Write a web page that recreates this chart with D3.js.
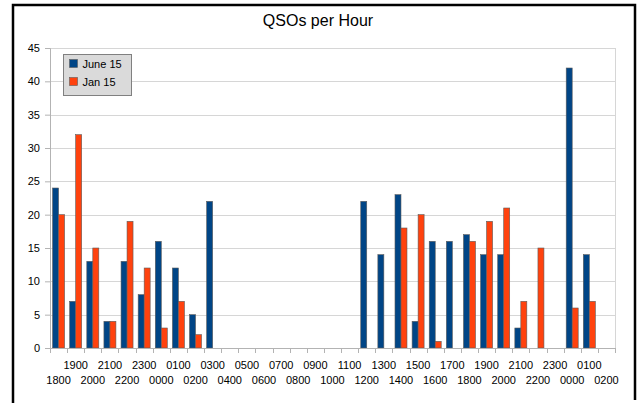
<!DOCTYPE html>
<html>
<head>
<meta charset="utf-8">
<script src="https://cdn.jsdelivr.net/npm/d3@7"></script>
<style>
  body { margin: 0; background: #fff; }
  svg text { font-family: "Liberation Sans", Arial, sans-serif; fill: #000; }
</style>
</head>
<body>
<svg id="chart" width="638" height="403"></svg>
<script>
// hours along the x axis (two days, 1800 -> 0200)
const hours = ['1800','1900','2000','2100','2200','2300','0000','0100','0200','0300','0400','0500',
  '0600','0700','0800','0900','1000','1100','1200','1300','1400','1500','1600','1700',
  '1800','1900','2000','2100','2200','2300','0000','0100','0200'];
const june15 = [24,7,13,4,13,8,16,12,5,22,0,0,0,0,0,0,0,0,22,14,23,4,16,16,17,14,14,3,0,0,42,14,0];
const jan15 = [20,32,15,4,19,12,3,7,2,0,0,0,0,0,0,0,0,0,0,0,18,20,1,0,16,19,21,7,15,0,6,7,0];
const seriesNames = ['June 15', 'Jan 15'];
const yTicks = [0,5,10,15,20,25,30,35,40,45];

const colors = { 'June 15': '#004586', 'Jan 15': '#ff420e' };
const margin = { top: 48, right: 23, bottom: 55, left: 50 };
const W = 638, H = 403;
const width = W - margin.left - margin.right;
const height = H - margin.top - margin.bottom;

const svg = d3.select('#chart');

// outer frame
svg.append('path')
  .attr('d', `M13,403 L13,5 L635,5 L635,400`)
  .attr('fill', 'none').attr('stroke', '#000').attr('stroke-width', 2.5);

svg.append('text')
  .attr('x', 318).attr('y', 26)
  .attr('text-anchor', 'middle')
  .style('font-size', '16px')
  .text('QSOs per Hour');

const g = svg.append('g').attr('transform', `translate(${margin.left},${margin.top})`);

const x = d3.scaleBand().domain(d3.range(hours.length)).range([0, width]).padding(0);
const xs = d3.scaleBand().domain(seriesNames).range([x.bandwidth() * 0.15, x.bandwidth() * 0.85]);
const y = d3.scaleLinear().domain([0, 45]).range([height, 0]);

// grid
g.selectAll('.grid').data(yTicks).enter().append('line')
  .attr('x1', 0).attr('x2', width)
  .attr('y1', d => Math.round(y(d)) + 0.5).attr('y2', d => Math.round(y(d)) + 0.5)
  .attr('stroke', '#d6d6d6');
g.append('line').attr('x1', width + 0.5).attr('x2', width + 0.5).attr('y1', 0).attr('y2', height)
  .attr('stroke', '#d6d6d6');

// y axis
const yAxis = g.append('g').call(d3.axisLeft(y).tickValues(yTicks).tickSize(5).tickPadding(5));
yAxis.select('.domain').attr('stroke', '#b3b3b3');
yAxis.selectAll('.tick line').attr('stroke', '#b3b3b3');
yAxis.selectAll('text').style('font-size', '11px');

// bars
const rows = hours.map((h, i) => ({ i, 'June 15': june15[i], 'Jan 15': jan15[i] }));
const groups = g.selectAll('.grp').data(rows).enter().append('g')
  .attr('transform', d => `translate(${x(d.i)},0)`);
groups.selectAll('rect')
  .data(d => seriesNames.map(s => ({ s, v: d[s] })).filter(e => e.v > 0))
  .enter().append('rect')
  .attr('x', d => xs(d.s))
  .attr('width', xs.bandwidth())
  .attr('y', d => y(d.v))
  .attr('height', d => height - y(d.v))
  .attr('fill', d => colors[d.s])
  .attr('stroke', '#5c5c5c')
  .attr('stroke-width', 0.6);

// x axis line + boundary ticks
const xa = g.append('g').attr('transform', `translate(0,${height})`);
xa.append('line').attr('x1', 0).attr('x2', width).attr('y1', 0.5).attr('y2', 0.5).attr('stroke', '#b3b3b3');
xa.selectAll('.bt').data(d3.range(hours.length + 1)).enter().append('line')
  .attr('x1', d => Math.round(d * x.step()) + 0.5).attr('x2', d => Math.round(d * x.step()) + 0.5)
  .attr('y1', 0).attr('y2', 5)
  .attr('stroke', '#b3b3b3');
xa.selectAll('.lbl').data(hours).enter().append('text')
  .attr('x', (d, i) => x(i) + x.bandwidth() / 2)
  .attr('y', (d, i) => i % 2 ? 21 : 36)
  .attr('text-anchor', 'middle')
  .style('font-size', '11px')
  .text(d => d);

// legend
const lg = svg.append('g').attr('transform', 'translate(63.5,54.5)');
lg.append('rect').attr('width', 68).attr('height', 41)
  .attr('fill', '#dadada').attr('stroke', '#808080');
seriesNames.forEach((s, i) => {
  lg.append('rect').attr('x', 6).attr('y', 5 + i * 18).attr('width', 8).attr('height', 8)
    .attr('fill', colors[s]).attr('stroke', '#5c5c5c').attr('stroke-width', 0.6);
  lg.append('text').attr('x', 19).attr('y', 13.5 + i * 18).style('font-size', '11px').text(s);
});
</script>
</body>
</html>
